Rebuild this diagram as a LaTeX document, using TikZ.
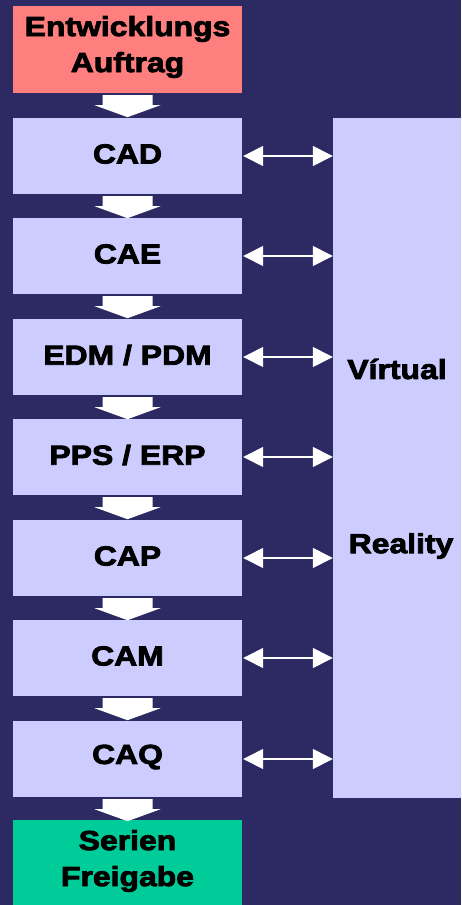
\documentclass[tikz,border=0pt]{standalone}
\usepackage{fontspec}
\setmainfont{Liberation Sans}[FakeStretch=1.16,FakeBold=3]
\usetikzlibrary{arrows.meta}
\definecolor{bgnavy}{HTML}{2C2963}
\definecolor{lav}{HTML}{CCCCFF}
\definecolor{salmon}{HTML}{FF7F7F}
\definecolor{mint}{HTML}{00CC99}
\tikzset{
  stagebox/.style={fill=lav, draw=none, minimum width=229pt, minimum height=76pt, inner sep=0pt,
    font=\fontsize{27.5}{36}\selectfont\bfseries, text=black, align=center},
  stagetext/.style={font=\fontsize{27.5}{36}\selectfont\bfseries, text=black, align=center},
  blockarrow/.style={fill=white, draw=none},
  linkarrow/.style={draw=white, line width=1.4pt, {Triangle[length=20pt,width=20pt]}-{Triangle[length=20pt,width=20pt]}}
}
\newcommand{\blockarr}[1]{%
  \fill[blockarrow] ([xshift=-25pt,yshift=-2pt]#1.south) -- ([xshift=25pt,yshift=-2pt]#1.south)
    -- ([xshift=25pt,yshift=-12pt]#1.south) -- ([xshift=33pt,yshift=-12pt]#1.south)
    -- ([yshift=-24pt]#1.south) -- ([xshift=-33pt,yshift=-12pt]#1.south)
    -- ([xshift=-25pt,yshift=-12pt]#1.south) -- cycle;}
\begin{document}
\begin{tikzpicture}[x=1pt,y=1pt]
\fill[bgnavy] (0,0) rectangle (461,-905);
\useasboundingbox (0,0) rectangle (461,-905);
\node[stagebox, fill=salmon, minimum height=87pt] (auftrag) at (127.5,-49.5) {};
\node[stagetext] at (127.5,-47) {Entwicklungs\\Auftrag};
\foreach \n/\y/\t in {cad/156/CAD, cae/256/CAE, edm/357/EDM \slash{} PDM, pps/457/PPS \slash{} ERP, cap/558/CAP, cam/658/CAM, caq/759/CAQ}{
  \node[stagebox] (\n) at (127.5,-\y) {};
  \node[stagetext] at (127.5,-\y+2) {\t};
}
\node[stagebox, fill=mint, minimum height=85pt] (serien) at (127.5,-862.5) {};
\node[stagetext] at (127.5,-861) {Serien\\Freigabe};
\node[stagebox, minimum width=128pt, minimum height=680pt] (vr) at (397,-458) {};
\node[stagetext] (virt) at (397,-369) {Vírtual};
\node[stagetext] (real) at (401,-546) {Reality};
\blockarr{auftrag}
\blockarr{cad}
\blockarr{cae}
\blockarr{edm}
\blockarr{pps}
\blockarr{cap}
\blockarr{cam}
\blockarr{caq}
\foreach \n in {cad,cae,edm,pps,cap,cam,caq}{
  \draw[linkarrow] ([xshift=1pt]\n.east) -- (\n.east -| vr.west);
}
\end{tikzpicture}
\end{document}
